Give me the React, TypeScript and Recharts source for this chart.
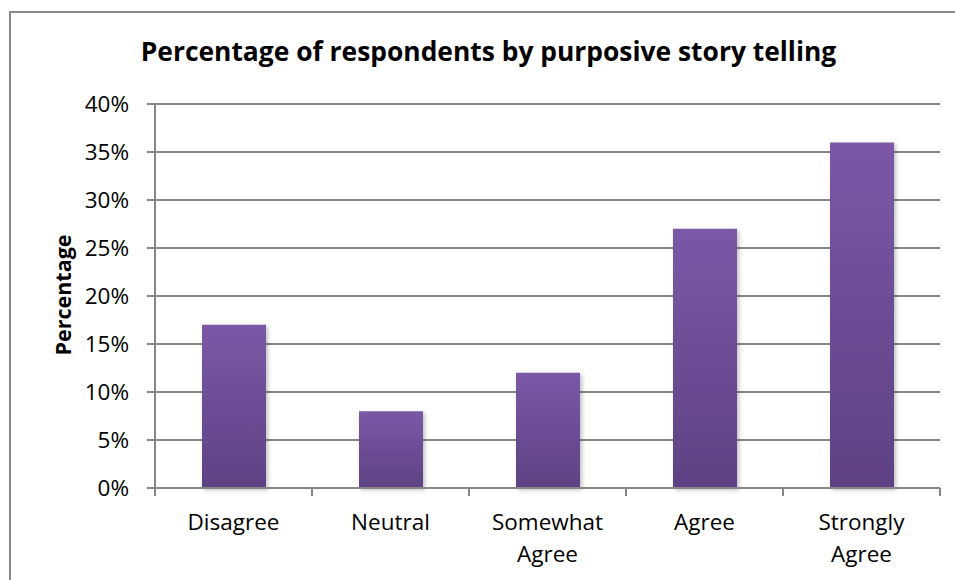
import { BarChart, Bar, XAxis, YAxis, CartesianGrid } from "recharts";

const categories = ["Disagree", "Neutral", "Somewhat Agree", "Agree", "Strongly Agree"];
const percentages = [17, 8, 12, 27, 36];
const yTicks = [0, 5, 10, 15, 20, 25, 30, 35, 40];

const data = categories.map((name, i) => ({ name, value: percentages[i] }));

const FONT = "'Open Sans', 'Noto Sans', sans-serif";
const GRID = "#878787";

function CategoryTick(props: any) {
  const { x, y, payload, index } = props;
  const half = payload?.offset ?? 78.5;
  const words: string[] = String(payload.value).split(" ");
  const lines = words.length > 1 && payload.value.length > 10 ? words : [payload.value];
  return (
    <g>
      <line x1={x - half} y1={y} x2={x - half} y2={y + 8} stroke={GRID} strokeWidth={2} />
      {index === categories.length - 1 && (
        <line x1={x + half} y1={y} x2={x + half} y2={y + 8} stroke={GRID} strokeWidth={2} />
      )}
      <text x={x} y={y} textAnchor="middle" fill="#000" fontFamily={FONT} fontSize={22.5}>
        {lines.map((l, i) => (
          <tspan key={i} x={x} dy={i === 0 ? 42 : 32}>
            {l}
          </tspan>
        ))}
      </text>
    </g>
  );
}

export default function App() {
  return (
    <div style={{ width: 955, height: 580, position: "relative", background: "#fff", overflow: "hidden" }}>
      <style>{"html,body{margin:0;padding:0;overflow:hidden;background:#fff}"}</style>
      {/* chart frame: only top and left edges fall inside the picture */}
      <div style={{ position: "absolute", left: 9, top: 11, width: 946, height: 2, background: "#8a8a8a" }} />
      <div style={{ position: "absolute", left: 9, top: 11, width: 2, height: 569, background: "#8a8a8a" }} />
      <div
        style={{
          position: "absolute",
          left: 0,
          width: 955,
          top: 33,
          textAlign: "center",
          fontFamily: FONT,
          fontWeight: 700,
          fontSize: 26.4,
          paddingLeft: 22,
          boxSizing: "border-box",
          whiteSpace: "nowrap",
        }}
      >
        Percentage of respondents by purposive story telling
      </div>
      <div
        style={{
          position: "absolute",
          left: 62,
          top: 295,
          transform: "translate(-50%, -50%) rotate(-90deg)",
          fontFamily: FONT,
          fontWeight: 700,
          fontSize: 21.5,
          whiteSpace: "nowrap",
        }}
      >
        Percentage
      </div>
      <div style={{ position: "absolute", left: 0, top: 0 }}>
        <BarChart width={955} height={580} data={data} margin={{ top: 104, right: 15, left: 0, bottom: 0 }}>
          <defs>
            <linearGradient id="barFill" x1="0" y1="0" x2="0" y2="1">
              <stop offset="0%" stopColor="#7b58a7" />
              <stop offset="100%" stopColor="#5e4283" />
            </linearGradient>
            <filter id="barShadow" x="-20%" y="-5%" width="140%" height="115%">
              <feDropShadow dx="2" dy="2" stdDeviation="2" floodColor="#000" floodOpacity="0.25" />
            </filter>
          </defs>
          <CartesianGrid vertical={false} stroke={GRID} strokeWidth={2} />
          <XAxis
            dataKey="name"
            height={92}
            axisLine={{ stroke: GRID, strokeWidth: 2 }}
            tickLine={false}
            tickSize={0}
            tickMargin={0}
            interval={0}
            tick={<CategoryTick />}
          />
          <YAxis
            width={155}
            domain={[0, 40]}
            ticks={yTicks}
            interval={0}
            tickFormatter={(v) => `${v}%`}
            axisLine={{ stroke: GRID, strokeWidth: 2 }}
            tickLine={{ stroke: GRID, strokeWidth: 2 }}
            tickSize={8}
            tickMargin={18}
            tick={{ fill: "#000", fontFamily: FONT, fontSize: 22.5 }}
          />
          <Bar
            dataKey="value"
            barSize={64}
            fill="url(#barFill)"
            filter="url(#barShadow)"
            isAnimationActive={false}
          />
        </BarChart>
      </div>
    </div>
  );
}
